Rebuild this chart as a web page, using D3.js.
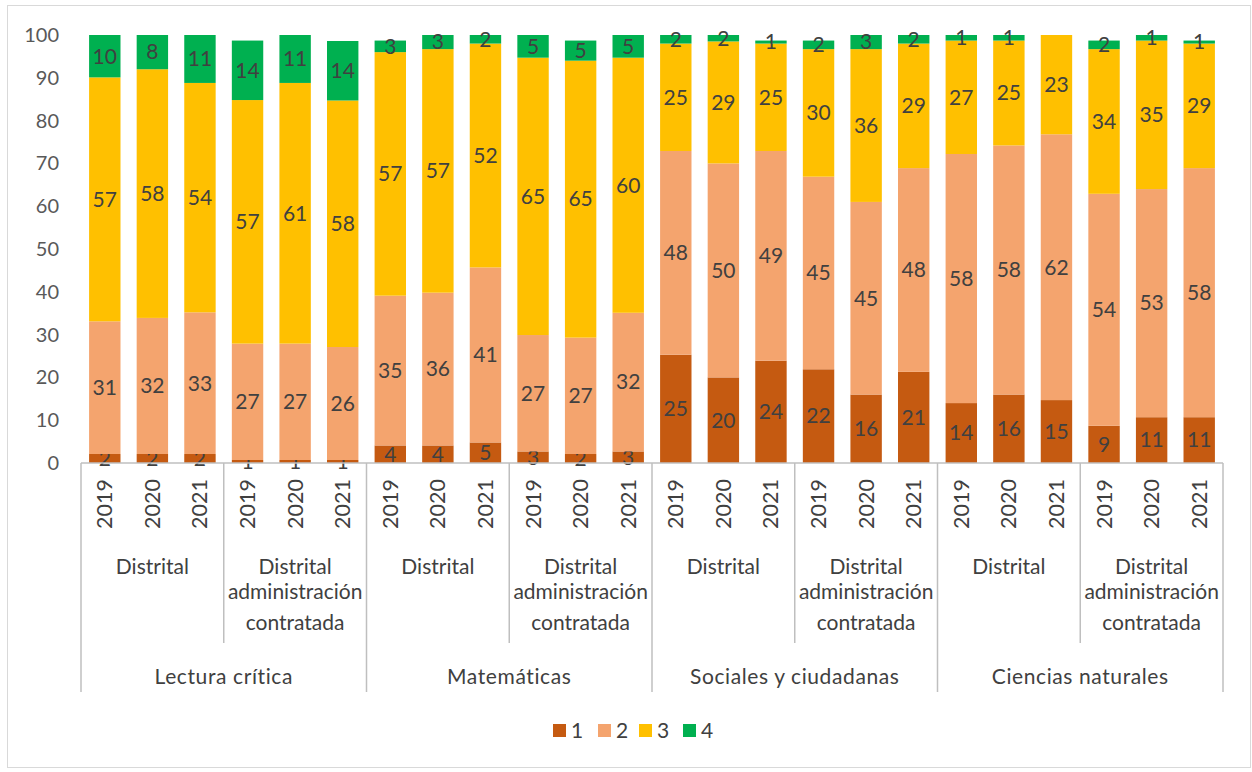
<!DOCTYPE html>
<html>
<head>
<meta charset="utf-8">
<script src="https://cdn.jsdelivr.net/npm/d3@7"></script>
<style>
    body { margin: 0; background: #fff; }
    #chart { width: 1252px; height: 772px; }
    text { font-family: Lato, "Liberation Sans", sans-serif; }
</style>
</head>
<body>
<div id="chart"></div>
<script>
// Chart data
const areas = ['Lectura crítica', 'Matemáticas', 'Sociales y ciudadanas', 'Ciencias naturales'];
const groups = ['Distrital', 'Distrital administración contratada'];
const groupLines = [['Distrital'], ['Distrital', 'administración', 'contratada']];
const years = ['2019', '2020', '2021'];
const levels = ['1', '2', '3', '4'];
const colors = ['#c55a11', '#f4a46e', '#ffc000', '#00b050'];
const yTicks = [0, 10, 20, 30, 40, 50, 60, 70, 80, 90, 100];

const nivel1 = [2.1, 2.1, 2.1, 0.7, 0.7, 0.7, 4.1, 4.1, 4.8, 2.7, 2.1, 2.7,
    25.3, 20.0, 23.9, 21.9, 16.0, 21.3, 14.0, 16.0, 14.7, 8.7, 10.7, 10.7];
const nivel2 = [31.0, 31.8, 33.1, 27.2, 27.2, 26.4, 35.0, 35.7, 40.9, 27.2, 27.2, 32.4,
    47.6, 50.0, 49.0, 45.0, 45.0, 47.6, 58.2, 58.2, 62.1, 54.2, 53.3, 58.2];
const nivel3 = [57.0, 58.1, 53.6, 56.9, 60.9, 57.6, 56.9, 56.9, 52.3, 64.8, 64.7, 59.6,
    25.1, 28.5, 25.1, 29.8, 35.7, 29.1, 26.5, 24.5, 23.2, 33.8, 34.7, 29.1];
const nivel4 = [9.9, 8.0, 11.2, 13.9, 11.2, 13.9, 2.7, 3.3, 2.0, 5.3, 4.7, 5.3,
    2.0, 1.5, 0.7, 2.0, 3.3, 2.0, 1.3, 1.3, 0, 2.0, 1.3, 0.7];

// Build one row per bar
const rows = [];
areas.forEach(area => groups.forEach(group => years.forEach(year => {
    const i = rows.length;
    rows.push({
        key: `${area}|${group}|${year}`, area, group, year,
        '1': nivel1[i], '2': nivel2[i], '3': nivel3[i], '4': nivel4[i]
    });
})));

const width = 1252, height = 772;
const plot = { left: 81, right: 1223, top: 35, bottom: 463 };
const textColor = '#404040';
const lineColor = '#bfbfbf';

const svg = d3.select('#chart').append('svg')
    .attr('width', width)
    .attr('height', height);

// chart border
svg.append('rect')
    .attr('x', 7.5).attr('y', 5.5)
    .attr('width', 1243).attr('height', 762)
    .attr('fill', 'none')
    .attr('stroke', '#d9d9d9');

const x = d3.scaleBand()
    .domain(rows.map(d => d.key))
    .range([plot.left, plot.right])
    .paddingInner(0.34)
    .paddingOuter(0.17);

const y = d3.scaleLinear()
    .domain([0, 100])
    .range([plot.bottom, plot.top]);

// Y axis labels (no line)
const yAxis = svg.append('g')
    .attr('transform', `translate(${plot.left - 22},0)`)
    .call(d3.axisLeft(y).tickValues(yTicks).tickSize(0).tickPadding(0));
yAxis.select('.domain').remove();
yAxis.selectAll('text')
    .style('fill', '#595959')
    .style('font-size', '20px');

// Stacked bars
const stack = d3.stack().keys(levels)(rows);

const layers = svg.selectAll('.layer')
    .data(stack)
    .enter()
    .append('g')
    .attr('class', 'layer')
    .attr('fill', (d, i) => colors[i]);

layers.selectAll('rect')
    .data(d => d)
    .enter()
    .append('rect')
    .attr('x', d => x(d.data.key))
    .attr('y', d => y(d[1]))
    .attr('width', x.bandwidth())
    .attr('height', d => y(d[0]) - y(d[1]));

// Value labels
layers.selectAll('text')
    .data(d => d.filter(s => s[1] - s[0] > 0))
    .enter()
    .append('text')
    .attr('x', d => x(d.data.key) + x.bandwidth() / 2)
    .attr('y', d => y((d[0] + d[1]) / 2))
    .attr('dy', '0.35em')
    .attr('text-anchor', 'middle')
    .style('fill', textColor)
    .style('font-size', '21px')
    .text(d => Math.round(d[1] - d[0]));

// Category axis (multi-level)
const step = x.step();
const axis = svg.append('g')
    .attr('stroke', lineColor)
    .attr('stroke-width', 1.5);

axis.append('line')
    .attr('x1', plot.left).attr('x2', plot.right)
    .attr('y1', plot.bottom).attr('y2', plot.bottom);

d3.range(0, rows.length + 1, 3).forEach(i => {
    const bx = plot.left + i * step;
    axis.append('line')
        .attr('x1', bx).attr('x2', bx)
        .attr('y1', plot.bottom)
        .attr('y2', i % 6 === 0 ? 692 : 643);
});

// years
svg.append('g').selectAll('text')
    .data(rows)
    .enter()
    .append('text')
    .attr('transform', d => `translate(${x(d.key) + x.bandwidth() / 2},479) rotate(-90)`)
    .attr('dy', '0.35em')
    .attr('text-anchor', 'end')
    .style('fill', textColor)
    .style('font-size', '21.5px')
    .text(d => d.year);

// groups
areas.forEach((area, a) => {
    groups.forEach((group, g) => {
        const first = x(`${area}|${group}|${years[0]}`);
        const last = x(`${area}|${group}|${years[years.length - 1]}`) + x.bandwidth();
        const t = svg.append('text')
            .attr('x', (first + last) / 2)
            .attr('y', 567)
            .attr('dy', '0.35em')
            .attr('text-anchor', 'middle')
            .style('fill', textColor)
            .style('font-size', '21px');
        groupLines[g].forEach((line, li) => {
            t.append('tspan')
                .attr('x', (first + last) / 2)
                .attr('y', 567 + li * 31.5)
                .text(line);
        });
    });
    const a0 = x(`${area}|${groups[0]}|${years[0]}`);
    const a1 = x(`${area}|${groups[1]}|${years[2]}`) + x.bandwidth();
    svg.append('text')
        .attr('x', (a0 + a1) / 2)
        .attr('y', 677)
        .attr('dy', '0.35em')
        .attr('text-anchor', 'middle')
        .style('fill', textColor)
        .style('font-size', '21px')
        .style('letter-spacing', '0.6px')
        .text(area);
});

// Legend
const legendX = [553, 598, 639, 683];
const legend = svg.append('g')
    .attr('transform', 'translate(0, 731)');

levels.forEach((lv, i) => {
    legend.append('rect')
        .attr('x', legendX[i])
        .attr('y', -7)
        .attr('width', 13)
        .attr('height', 13)
        .attr('fill', colors[i]);

    legend.append('text')
        .attr('x', legendX[i] + 18)
        .attr('y', 0)
        .attr('dy', '0.35em')
        .style('fill', textColor)
        .style('font-size', '21px')
        .text(lv);
});
</script>
</body>
</html>
